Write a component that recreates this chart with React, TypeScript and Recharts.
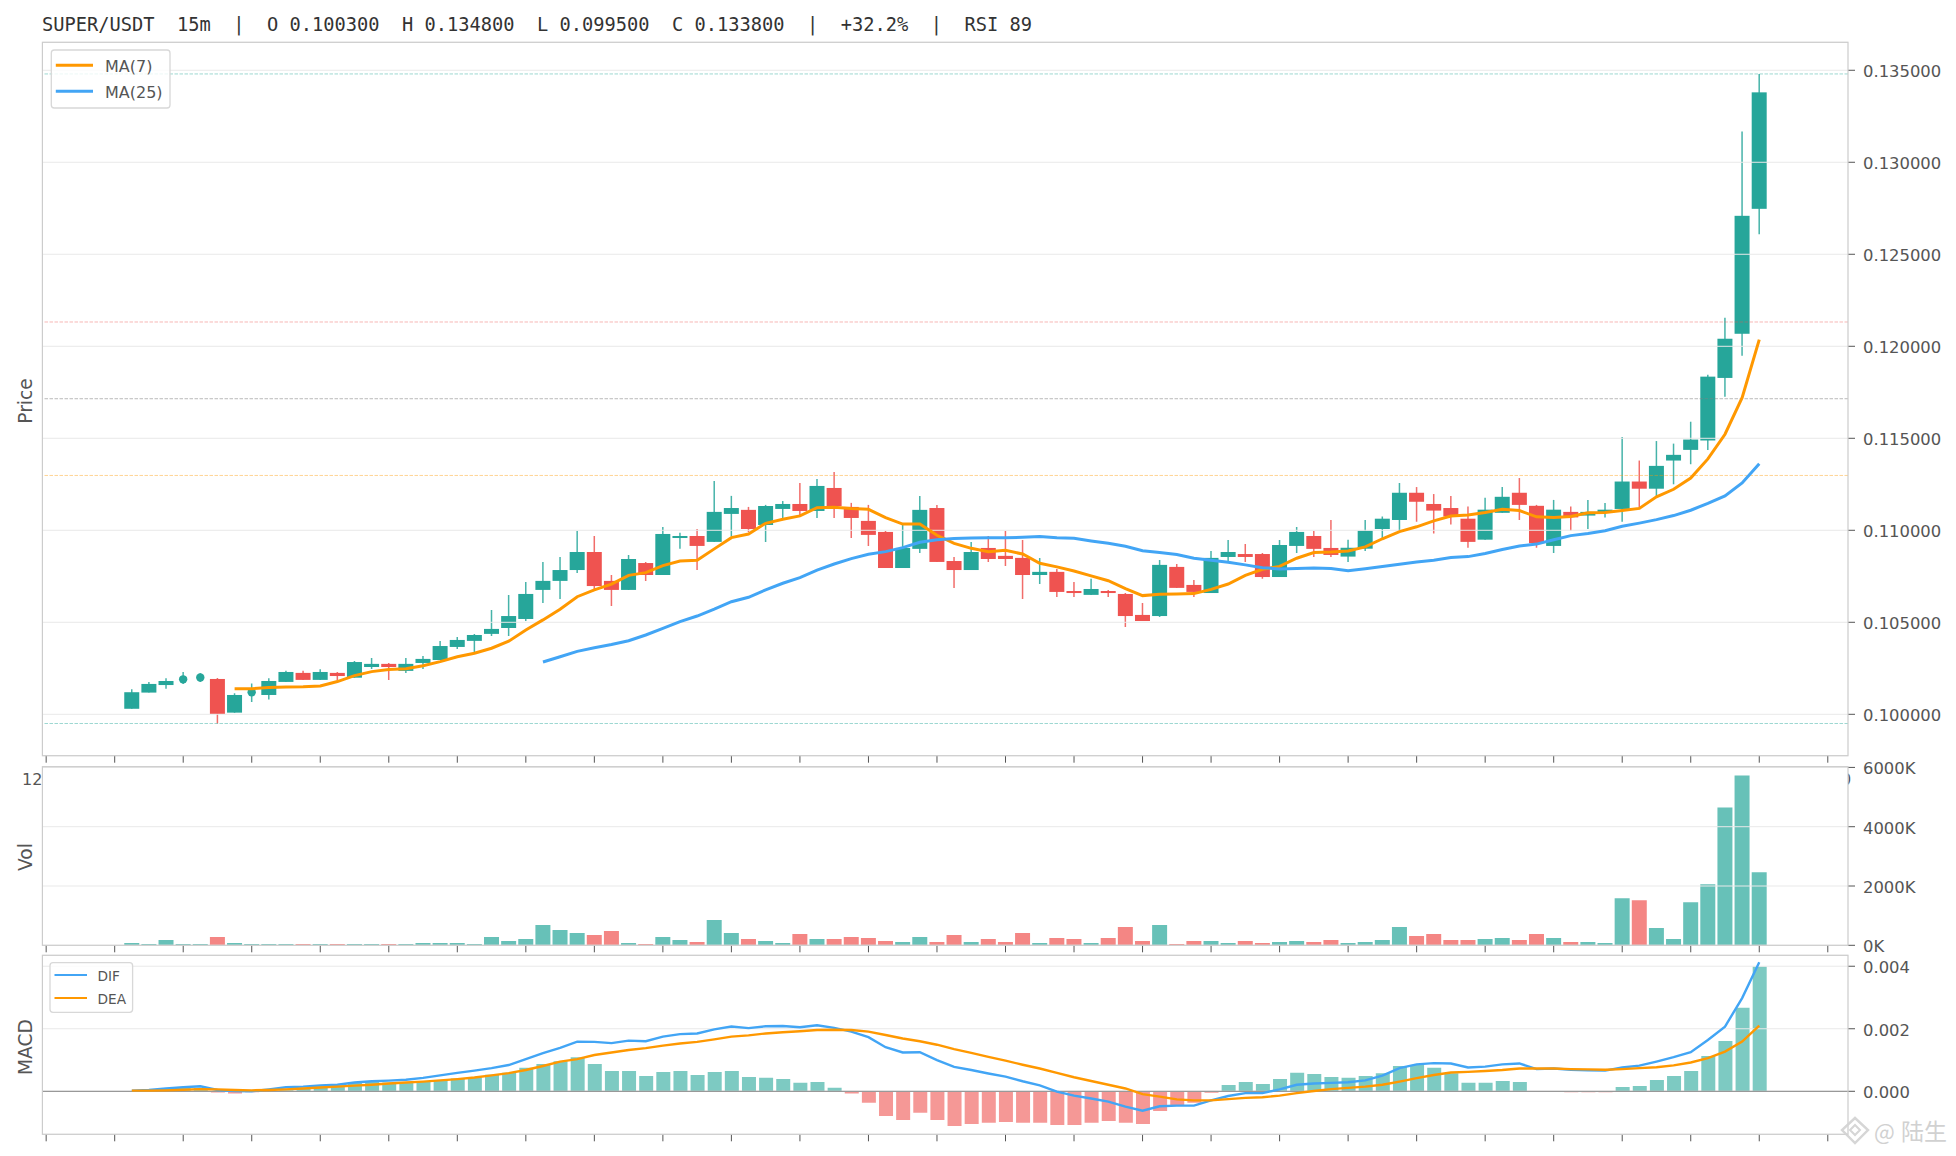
import React from 'react';
import { ComposedChart, Bar, Line, XAxis, YAxis, CartesianGrid, ReferenceLine, Rectangle } from 'recharts';

const titleText = 'SUPER/USDT  15m  |  O 0.100300  H 0.134800  L 0.099500  C 0.133800  |  +32.2%  |  RSI 89';

const opens = [.1003,.10118,.10159,.1019,.102,.10192,.10009,.1012,.10105,.10176,.10225,.10187,.10225,.10199,.10257,.10274,.10236,.10279,.10295,.10366,.10399,.10437,.10469,.10518,.10676,.10725,.10784,.10882,.10725,.10676,.10822,.10757,.10958,.10969,.10937,.11089,.11111,.11029,.11116,.11143,.11105,.1123,.11127,.11051,.10991,.10795,.10899,.11121,.10833,.10784,.10904,.10861,.1085,.10757,.10774,.1067,.10649,.1067,.10654,.1054,.10534,.10801,.10703,.10659,.10855,.10871,.10871,.10746,.10915,.10969,.10904,.10857,.109,.11007,.11056,.11204,.11143,.11121,.11063,.10949,.11095,.11204,.11133,.10915,.111,.1108,.11095,.11116,.11265,.11226,.11379,.11437,.11488,.11828,.12068,.12747];
const closes = [.1012,.10165,.10181,.1019,.102,.10002,.10105,.1012,.10181,.1023,.10187,.1023,.10208,.10284,.10274,.10257,.10274,.10301,.10371,.10404,.10431,.10464,.10534,.10654,.10725,.10784,.10882,.10697,.10676,.10844,.10757,.1098,.10969,.10915,.111,.11121,.11007,.11132,.11143,.11105,.11241,.11132,.11067,.10975,.10795,.10904,.11111,.10828,.10784,.10882,.10844,.10844,.10757,.10774,.10665,.10659,.10681,.10659,.10534,.10507,.10812,.10687,.10665,.1085,.10882,.10855,.10746,.1092,.10991,.10899,.10866,.10905,.10998,.11063,.11204,.11155,.11107,.11075,.10937,.11112,.11182,.11138,.1093,.11112,.1107,.111,.11112,.11265,.11226,.1135,.1141,.11493,.11835,.12041,.12709,.1338];
const highs = [.10136,.10176,.10196,.1023,.10223,.10197,.10114,.10168,.10196,.10236,.10236,.10245,.1023,.1029,.10306,.10279,.10306,.10317,.10399,.1042,.10437,.10567,.10649,.10719,.10828,.10855,.10996,.10969,.10757,.10866,.10828,.11018,.10986,.11007,.11268,.11187,.11127,.11138,.11159,.11257,.11279,.11317,.11149,.11138,.10996,.11029,.11187,.11138,.10855,.10937,.10969,.10996,.10947,.1085,.1079,.10719,.10736,.10676,.10659,.10605,.10839,.10817,.1073,.10888,.10947,.10926,.10877,.10947,.11018,.10996,.11056,.10949,.11056,.11075,.11257,.11235,.11197,.11187,.11129,.11177,.11235,.11284,.11138,.11165,.11129,.11165,.11148,.11507,.11379,.11485,.11471,.1159,.11845,.12155,.13167,.1348];
const lows = [.1003,.10118,.10139,.10165,.10176,.0995,.10009,.10067,.1008,.10176,.10187,.10187,.10187,.10199,.10246,.10187,.10225,.10246,.10295,.10355,.10339,.10426,.10426,.10507,.10605,.10627,.10768,.10676,.10589,.10676,.10725,.10757,.10899,.10784,.10937,.10966,.10991,.10937,.11067,.11083,.11067,.11067,.10958,.10915,.10795,.10795,.10877,.10828,.10687,.10784,.10828,.10806,.10627,.10708,.10638,.10638,.10649,.10638,.10475,.10507,.10529,.10687,.10638,.10659,.10833,.10828,.10736,.10746,.10877,.10855,.10855,.10828,.10888,.10954,.10998,.11046,.10983,.11032,.10905,.10949,.11095,.11056,.10905,.10876,.10998,.11007,.1107,.11046,.11119,.11184,.1125,.11359,.11437,.11726,.11949,.12609];
const ma7Start = 6;
const ma7Values = [.10139,.10139,.10145,.10149,.1015,.10154,.10178,.1021,.10232,.10243,.10248,.10264,.10286,.10313,.10332,.10359,.10397,.10458,.10513,.10571,.10639,.10676,.10707,.10755,.1077,.10808,.10833,.10837,.10899,.1096,.1098,.11038,.1106,.11078,.11123,.11125,.11118,.11114,.11069,.11034,.11034,.10973,.10929,.10902,.10884,.10891,.10871,.10821,.10801,.10779,.10752,.10726,.10683,.10645,.10652,.10654,.10656,.10679,.10708,.10755,.10788,.10804,.10848,.10879,.10882,.10888,.1091,.10954,.10993,.11019,.11051,.11078,.11083,.11097,.11114,.11107,.11073,.1107,.11075,.11095,.11097,.11107,.11119,.11182,.11223,.11284,.11388,.11522,.11721,.12036];
const ma25Start = 24;
const ma25Values = [.10284,.10313,.10342,.10362,.10379,.104,.10431,.10467,.10504,.10534,.10571,.10612,.10636,.10676,.10712,.10743,.10784,.10817,.10846,.1087,.10884,.10906,.10935,.10949,.10955,.10958,.1096,.1096,.10962,.10966,.1096,.10957,.10942,.10929,.10913,.10889,.10879,.10868,.10848,.10837,.10826,.10812,.10797,.1079,.10792,.10795,.10792,.1078,.10791,.10803,.10816,.10828,.10837,.10852,.10857,.10874,.10896,.10915,.10925,.10949,.10971,.10983,.10998,.11022,.11039,.11058,.1108,.11109,.11146,.11187,.11257,.11362];
const volumesK = [78,45,180,45,45,280,78,45,45,45,45,45,45,45,45,45,45,78,78,78,45,280,145,213,683,515,415,347,482,78,45,280,180,112,850,415,213,145,78,380,213,213,280,246,145,112,280,112,347,112,213,112,415,78,246,213,78,246,616,145,683,45,145,145,78,145,78,112,145,112,180,78,112,180,616,313,380,180,180,213,246,180,380,246,112,112,78,1590,1523,582,213,1456,2061,4648,5723,2464];
// MACD values in units of 0.00001
const histE5 = [1,3,9,11,11,-4,-7,-3,1,3,9,17,19,27,30,28,29,31,35,41,45,53,59,75,87,96,109,87,65,65,49,62,65,52,62,65,46,43,39,27,30,11,-7,-37,-79,-92,-69,-92,-111,-105,-101,-98,-101,-101,-108,-108,-101,-95,-101,-105,-63,-47,-37,-5,20,30,23,39,59,55,46,43,49,58,81,84,75,58,27,27,33,30,0,0,-3,-3,-3,14,17,36,49,65,113,161,267,399];
const difE5 = [2,4,9,13,16,4,1,0,6,13,15,19,21,28,32,34,37,43,51,59,66,74,84,103,122,139,159,158,154,162,160,175,183,185,198,207,202,208,209,205,211,203,191,173,141,124,125,100,78,68,57,47,32,19,-1,-14,-23,-33,-49,-62,-48,-46,-46,-29,-15,-6,-6,6,21,25,27,29,35,50,74,86,90,89,76,79,86,89,71,73,69,67,66,76,82,95,109,125,164,207,298,413];
const deaE5 = [2,2,3,5,7,6,4,3,4,6,9,12,15,18,21,25,28,31,35,39,44,51,58,68,81,95,103,116,124,132,138,146,153,158,166,175,179,185,189,192,196,197,196,191,180,169,160,149,135,123,110,98,85,73,59,45,33,21,9,-9,-17,-26,-29,-29,-25,-21,-19,-14,-6,1,7,11,15,21,31,42,52,60,62,65,68,73,73,73,71,70,69,71,74,77,83,92,106,127,159,210];

const xTicks = [-5,-1,3,7,11,15,19,23,27,31,35,39,43,47,51,55,59,63,67,71,75,79,83,87,91,95,99];
const priceTicks = [0.1,0.105,0.11,0.115,0.12,0.125,0.13,0.135];
const volTicks = [0,2000,4000,6000];
const macdTicks = [0,0.002,0.004];
const levelLines = [
  { value: 0.1348, color: 'rgba(38,166,154,0.45)' },
  { value: 0.12132, color: 'rgba(239,83,80,0.42)' },
  { value: 0.11715, color: 'rgba(130,130,130,0.55)' },
  { value: 0.11298, color: 'rgba(255,152,0,0.42)' },
  { value: 0.0995, color: 'rgba(38,166,154,0.45)' },
];
const mainLegend = [{ name: 'MA(7)', color: '#ff9800' }, { name: 'MA(25)', color: '#42a5f5' }];
const macdLegend = [{ name: 'DIF', color: '#42a5f5' }, { name: 'DEA', color: '#ff9800' }];

const UP = '#26a69a';
const DOWN = '#ef5350';
const XDOMAIN: [number, number] = [-5.22, 100.18];
const PAGE_W = 1956;
const PAGE_H = 1156;
const FONT = '"DejaVu Sans", sans-serif';
const TICK = { fill: '#555', fontSize: 16.4, fontFamily: FONT, dy: 1 };

const data = opens.map((o, i) => ({
  i,
  open: o,
  close: closes[i],
  high: highs[i],
  low: lows[i],
  range: [lows[i], highs[i]],
  ma7: i >= ma7Start ? ma7Values[i - ma7Start] : null,
  ma25: i >= ma25Start ? ma25Values[i - ma25Start] : null,
  vol: volumesK[i],
  hist: histE5[i] * 1e-5,
  dif: difE5[i] * 1e-5,
  dea: deaE5[i] * 1e-5,
  up: closes[i] >= o,
}));

const Candle = (props: any) => {
  const { x, y, width, height, payload } = props;
  const { open, close, high, low, up } = payload;
  const color = up ? UP : DOWN;
  const perUnit = height / (high - low);
  const yOpen = y + (high - open) * perUnit;
  const yClose = y + (high - close) * perUnit;
  const cx = x + width / 2;
  const top = Math.min(yOpen, yClose);
  const h = Math.abs(yOpen - yClose);
  return (
    <g>
      <line x1={cx} x2={cx} y1={y} y2={y + height} stroke={color} strokeWidth={1.5} strokeOpacity={0.85} />
      {open === close
        ? <circle cx={cx} cy={yOpen} r={4.2} fill={color} />
        : <rect x={x} y={top} width={width} height={Math.max(h, 1)} fill={color} />}
    </g>
  );
};

const VolBar = (props: any) => (
  <Rectangle x={props.x} y={props.y} width={props.width} height={props.height} fill={props.payload.up ? UP : DOWN} fillOpacity={0.7} />
);
const HistBar = (props: any) => (
  <Rectangle x={props.x} y={props.y} width={props.width} height={props.height} fill={props.payload.hist >= 0 ? UP : DOWN} fillOpacity={0.6} />
);

const layer: React.CSSProperties = { position: 'absolute', left: 0, top: 0 };

const panelMargin = (top: number, bottom: number) => ({ top, bottom: PAGE_H - bottom - 20, left: 42.4, right: PAGE_W - 1848 - 90 });

const xAxisEl = (
  <XAxis dataKey="i" type="number" domain={XDOMAIN} ticks={xTicks} tickFormatter={() => ''} height={20} tickSize={7}
    axisLine={false} tickLine={{ stroke: '#555', strokeWidth: 1 }} interval={0} allowDataOverflow />
);

const LegendBox = ({ x, y, w, h, items, rowTop, rowGap, lineX, lineLen, textX, fontSize, lineWidth }: any) => (
  <g>
    <rect x={x} y={y} width={w} height={h} rx={3} fill="rgba(255,255,255,0.8)" stroke="#d8d8d8" strokeWidth={1.3} />
    {items.map((it: any, k: number) => (
      <g key={it.name}>
        <line x1={lineX} x2={lineX + lineLen} y1={rowTop + k * rowGap} y2={rowTop + k * rowGap} stroke={it.color} strokeWidth={lineWidth} />
        <text x={textX} y={rowTop + k * rowGap + 1} dominantBaseline="central" fontSize={fontSize} fontFamily={FONT} fill="#555">{it.name}</text>
      </g>
    ))}
  </g>
);

export default function App() {
  return (
    <div style={{ position: 'absolute', left: 0, top: 0, width: PAGE_W, height: PAGE_H, background: '#fff', overflow: 'hidden' }}>
      {/* main price panel */}
      <div style={layer}>
        <ComposedChart width={PAGE_W} height={PAGE_H} data={data} margin={panelMargin(42.3, 755.7)} barGap={0}>
          {xAxisEl}
          <YAxis orientation="right" type="number" domain={[0.09775, 0.13652]} ticks={priceTicks} width={90} tickSize={7} tickMargin={8}
            tickFormatter={(v: number) => v.toFixed(6)} tick={TICK} axisLine={false} tickLine={{ stroke: '#555' }} interval={0} allowDataOverflow />
          {levelLines.map(l => (
            <ReferenceLine key={l.value} y={l.value} stroke={l.color} strokeWidth={1} strokeDasharray="3.5 1.5" />
          ))}
          <Bar dataKey="range" barSize={15} shape={Candle} isAnimationActive={false} />
          <CartesianGrid horizontal vertical={false} stroke="#e9e9e9" strokeWidth={1} {...({ zIndex: 350 } as any)} />
          <Line dataKey="ma7" stroke="#ff9800" strokeWidth={3} dot={false} isAnimationActive={false} type="linear" />
          <Line dataKey="ma25" stroke="#42a5f5" strokeWidth={3} dot={false} isAnimationActive={false} type="linear" />
        </ComposedChart>
      </div>

      {/* tick-label fragments that show either side of the volume panel */}
      <svg width={PAGE_W} height={PAGE_H} style={layer}>
        <text x={22} y={779} dominantBaseline="central" fontSize={16} fontFamily={FONT} fill="#555">12</text>
        <text x={1841} y={779} dominantBaseline="central" fontSize={16} fontFamily={FONT} fill="#555">0</text>
      </svg>
      <div style={{ position: 'absolute', left: 42.4, top: 766.7, width: 1805.6, height: 178.6, background: '#fff' }} />

      {/* volume panel */}
      <div style={layer}>
        <ComposedChart width={PAGE_W} height={PAGE_H} data={data} margin={panelMargin(766.7, 945.3)}>
          {xAxisEl}
          <YAxis orientation="right" type="number" domain={[0, 6024]} ticks={volTicks} width={90} tickSize={7} tickMargin={8}
            tickFormatter={(v: number) => `${v}K`} tick={TICK} axisLine={false} tickLine={{ stroke: '#555' }} interval={0} allowDataOverflow />
          <Bar dataKey="vol" barSize={15} shape={VolBar} isAnimationActive={false} />
          <CartesianGrid horizontal vertical={false} stroke="#e9e9e9" strokeWidth={1} {...({ zIndex: 350 } as any)} />
        </ComposedChart>
      </div>

      {/* MACD panel */}
      <div style={layer}>
        <ComposedChart width={PAGE_W} height={PAGE_H} data={data} margin={panelMargin(955.3, 1134.3)}>
          {xAxisEl}
          <YAxis orientation="right" type="number" domain={[-0.001376, 0.00435]} ticks={macdTicks} width={90} tickSize={7} tickMargin={8}
            tickFormatter={(v: number) => v.toFixed(3)} tick={TICK} axisLine={false} tickLine={{ stroke: '#555' }} interval={0} allowDataOverflow />
          <Bar dataKey="hist" barSize={14} shape={HistBar} isAnimationActive={false} />
          <CartesianGrid horizontal vertical={false} stroke="#e9e9e9" strokeWidth={1} {...({ zIndex: 350 } as any)} />
          <ReferenceLine y={0} stroke="#999" strokeWidth={1.2} />
          <Line dataKey="dif" stroke="#42a5f5" strokeWidth={2.4} dot={false} isAnimationActive={false} type="linear" />
          <Line dataKey="dea" stroke="#ff9800" strokeWidth={2.4} dot={false} isAnimationActive={false} type="linear" />
        </ComposedChart>
      </div>

      {/* panel frames, titles, legends */}
      <svg width={PAGE_W} height={PAGE_H} style={layer}>
        <rect x={42.4} y={42.3} width={1805.6} height={713.4} fill="none" stroke="#ccc" strokeWidth={1.2} />
        <rect x={42.4} y={766.7} width={1805.6} height={178.6} fill="none" stroke="#ccc" strokeWidth={1.2} />
        <rect x={42.4} y={955.3} width={1805.6} height={179} fill="none" stroke="#ccc" strokeWidth={1.2} />
        <text x={42} y={24} dominantBaseline="central" fontSize={18.7} fontFamily='"DejaVu Sans Mono", monospace' fill="#333" style={{ whiteSpace: 'pre' }}>{titleText}</text>
        <text transform="translate(25,401) rotate(-90)" textAnchor="middle" dominantBaseline="central" fontSize={18.7} fontFamily={FONT} fill="#555">Price</text>
        <text transform="translate(25,857) rotate(-90)" textAnchor="middle" dominantBaseline="central" fontSize={18.7} fontFamily={FONT} fill="#555">Vol</text>
        <text transform="translate(25,1047) rotate(-90)" textAnchor="middle" dominantBaseline="central" fontSize={18.7} fontFamily={FONT} fill="#555">MACD</text>
        <LegendBox x={51.3} y={50} w={118.7} h={58} items={mainLegend} rowTop={65.3} rowGap={26} lineX={55.8} lineLen={37.2} textX={105} fontSize={16} lineWidth={3} />
        <LegendBox x={50} y={962.7} w={82.6} h={49.6} items={macdLegend} rowTop={975} rowGap={23} lineX={54.5} lineLen={32.5} textX={97.5} fontSize={13.7} lineWidth={2.2} />
        {/* watermark */}
        <g opacity={0.95}>
          <path d="M1855 1118 L1868 1130 L1855 1143 L1842 1130 Z" fill="none" stroke="#d4d4d4" strokeWidth={2.4} />
          <path d="M1855 1125 L1860 1130 L1855 1135 L1850 1130 Z" fill="none" stroke="#d4d4d4" strokeWidth={2} />
          <text x={1874} y={1130} dominantBaseline="central" fontSize={22} fontFamily='"Noto Sans CJK SC", sans-serif' fill="#cfcfcf">@</text>
          <text x={1901} y={1130} dominantBaseline="central" fontSize={23} fontFamily='"Noto Sans CJK SC", sans-serif' fill="#cfcfcf">陆生</text>
        </g>
      </svg>
    </div>
  );
}
